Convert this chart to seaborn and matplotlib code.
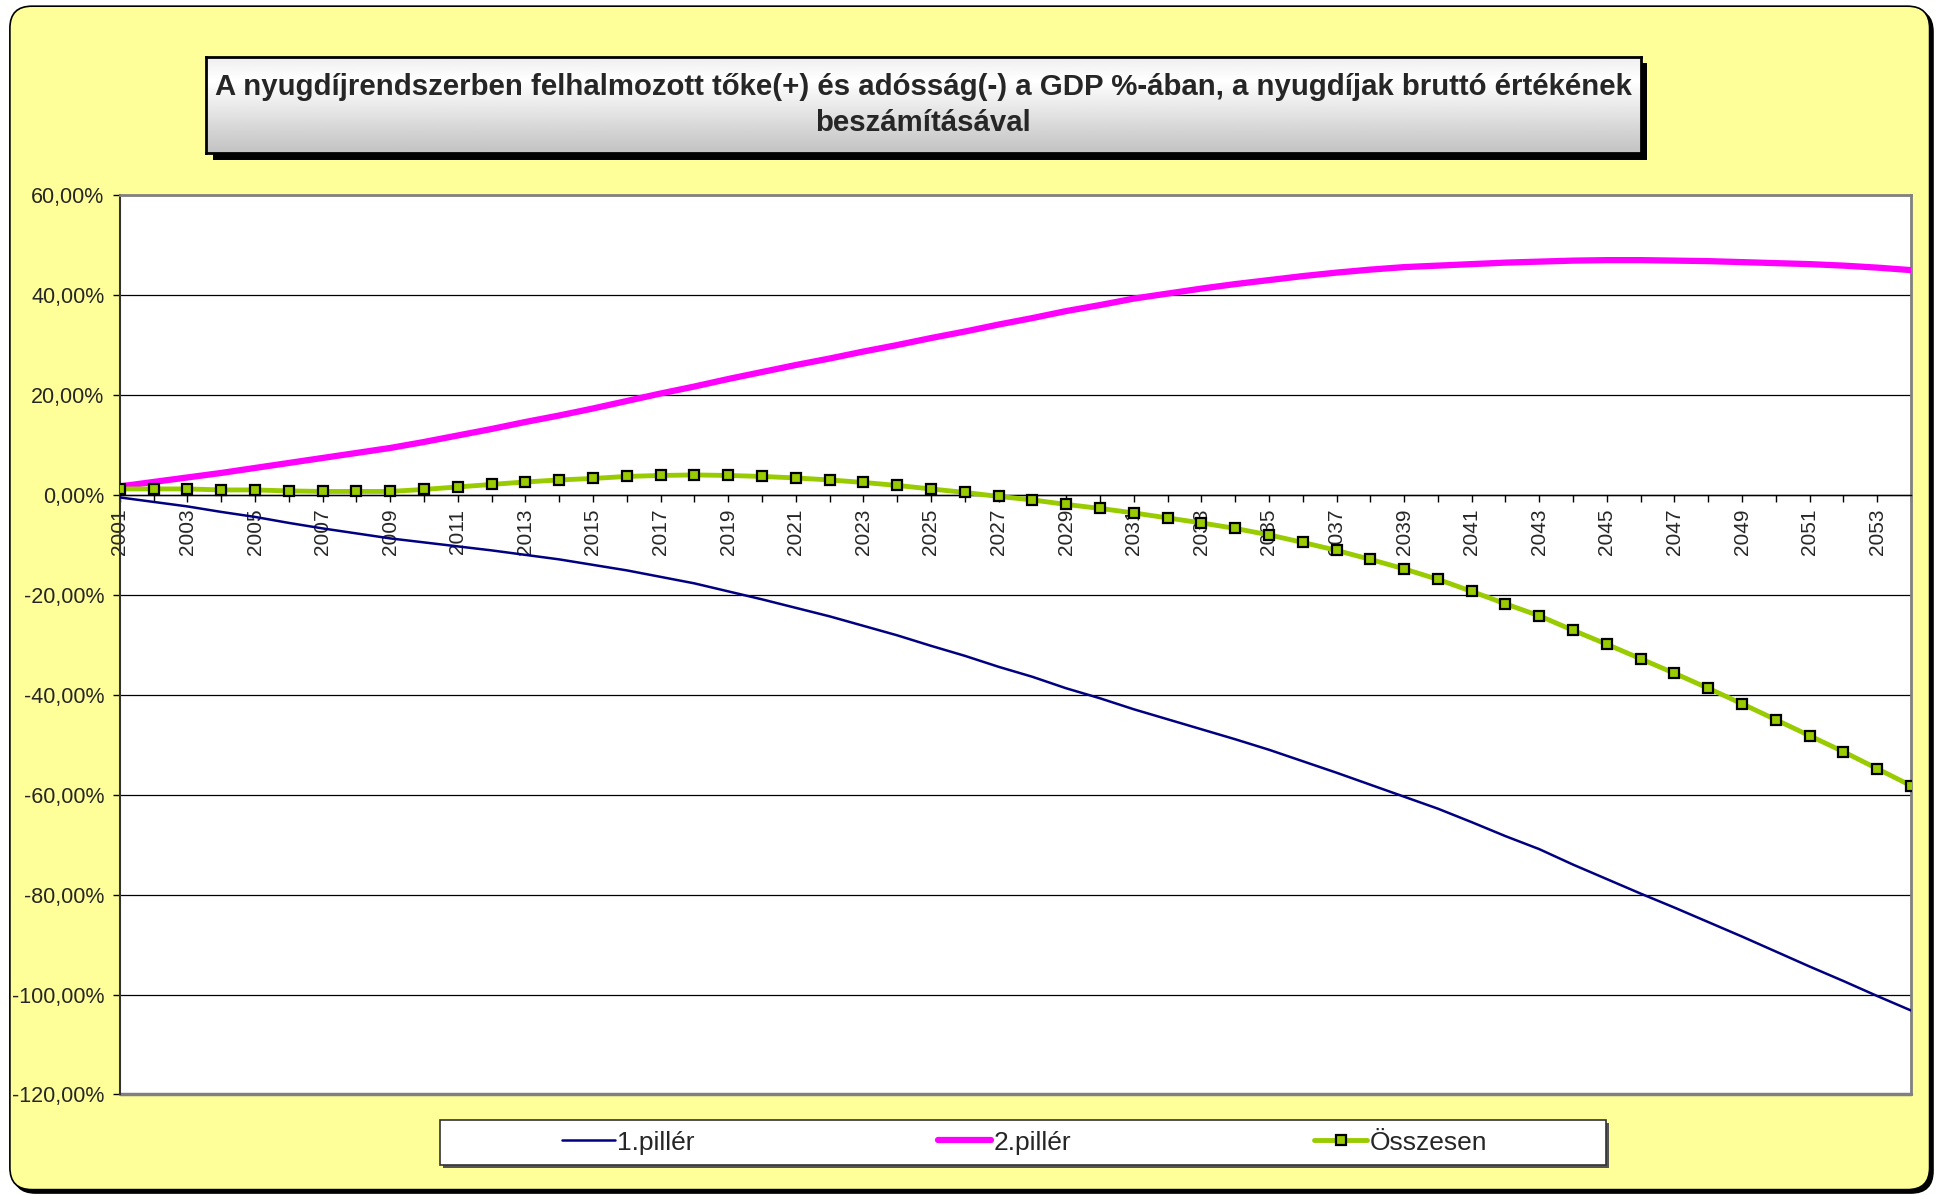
import numpy as np
import pandas as pd
import matplotlib
matplotlib.use("Agg")
import matplotlib.pyplot as plt
import seaborn as sns
from matplotlib.patches import FancyBboxPatch, Rectangle
from matplotlib.ticker import FuncFormatter, MultipleLocator

# adatok (a GDP %-ában)
years = list(range(2001, 2055))
pillar1 = [-0.5, -1.4, -2.3, -3.4, -4.4, -5.6, -6.7, -7.7, -8.7, -9.5,
           -10.3, -11.1, -12.0, -12.9, -14.0, -15.1, -16.4, -17.7, -19.3, -20.9,
           -22.6, -24.3, -26.2, -28.1, -30.2, -32.2, -34.4, -36.4, -38.7, -40.7,
           -42.9, -44.9, -46.9, -48.9, -51.0, -53.3, -55.6, -58.0, -60.4, -62.8,
           -65.5, -68.3, -70.9, -74.0, -76.9, -79.8, -82.6, -85.5, -88.4, -91.4,
           -94.4, -97.3, -100.3, -103.2]
pillar2 = [1.7, 2.6, 3.5, 4.4, 5.4, 6.4, 7.4, 8.4, 9.4, 10.6,
           11.9, 13.2, 14.6, 15.9, 17.3, 18.8, 20.3, 21.7, 23.2, 24.6,
           26.0, 27.3, 28.7, 30.0, 31.4, 32.7, 34.1, 35.4, 36.8, 38.0,
           39.3, 40.3, 41.3, 42.2, 43.0, 43.8, 44.5, 45.1, 45.6, 45.9,
           46.2, 46.5, 46.7, 46.9, 47.0, 47.0, 46.9, 46.8, 46.6, 46.4,
           46.2, 45.9, 45.5, 45.0]
total = [1.2, 1.2, 1.2, 1.0, 1.0, 0.8, 0.7, 0.7, 0.7, 1.1,
         1.6, 2.1, 2.6, 3.0, 3.3, 3.7, 3.9, 4.0, 3.9, 3.7,
         3.4, 3.0, 2.5, 1.9, 1.2, 0.5, -0.3, -1.0, -1.9, -2.7,
         -3.6, -4.6, -5.6, -6.7, -8.0, -9.5, -11.1, -12.9, -14.8, -16.9,
         -19.3, -21.8, -24.2, -27.1, -29.9, -32.8, -35.7, -38.7, -41.8, -45.0,
         -48.2, -51.4, -54.8, -58.2]
series_names = ['1.pillér', '2.pillér', 'Összesen']
title_text = ('A nyugdíjrendszerben felhalmozott tőke(+) és adósság(-) a GDP %-ában, '
              'a nyugdíjak bruttó értékének\nbeszámításával')

sns.set_style('white')
plt.rcParams['font.family'] = ['Liberation Sans', 'DejaVu Sans']
plt.rcParams['axes.unicode_minus'] = False

FW, FH = 19.37, 11.95
fig = plt.figure(figsize=(FW, FH), dpi=100)
fig.patch.set_facecolor('white')

# referencia-kép koordinátái (1568 széles) -> hüvelyk
S = FW / 1568.0
def inch(x, y):
    return x * S, FH - y * S

# sárga háttér lekerekített kerettel és árnyékkal
x0, y0 = inch(8, 963)
bw, bh = (1562 - 8) * S, (963 - 5) * S
fig.patches.append(FancyBboxPatch((x0 + 0.035, y0 - 0.035), bw, bh,
                                  boxstyle='round,pad=0,rounding_size=0.22',
                                  transform=fig.dpi_scale_trans, fc='black', ec='black', zorder=0))
fig.patches.append(FancyBboxPatch((x0, y0), bw, bh,
                                  boxstyle='round,pad=0,rounding_size=0.22',
                                  transform=fig.dpi_scale_trans, fc='#FFFF99', ec='black',
                                  lw=1.2, zorder=0.5))

# cím doboz színátmenettel
tx0, ty0 = 167 / 1568, 1 - 124 / 967.4
tw, th = (1328 - 167) / 1568, (124 - 46) / 967.4
fig.patches.append(Rectangle((tx0 + 0.0035, ty0 - 0.0055), tw, th, transform=fig.transFigure,
                             fc='black', ec='none', zorder=1))
tax = fig.add_axes([tx0, ty0, tw, th], zorder=2)
grad = np.concatenate([np.linspace(0.93, 1.0, 25), np.linspace(1.0, 0.76, 75)])
tax.imshow(grad[:, None], aspect='auto', cmap='gray', vmin=0, vmax=1, extent=[0, 1, 0, 1])
tax.set_xticks([])
tax.set_yticks([])
for sp in tax.spines.values():
    sp.set_color('black')
    sp.set_linewidth(2)
tax.text(0.5, 0.5, title_text, ha='center', va='center', fontsize=21.2, fontweight='bold',
         linespacing=1.4, transform=tax.transAxes)

# diagram
ax = fig.add_axes([97 / 1568, 1 - 886 / 967.4, (1547 - 97) / 1568, (886 - 158) / 967.4], zorder=3)
ax.set_facecolor('white')

df = pd.DataFrame({'ev': years, series_names[0]: pillar1,
                   series_names[1]: pillar2, series_names[2]: total})

sns.lineplot(data=df, x='ev', y=series_names[0], ax=ax, color='#000080', lw=1.8,
             label=series_names[0], zorder=4)
sns.lineplot(data=df, x='ev', y=series_names[1], ax=ax, color='#FF00FF', lw=4.5,
             label=series_names[1], zorder=5)
sns.lineplot(data=df, x='ev', y=series_names[2], ax=ax, color='#99CC00', lw=3.5,
             marker='s', markersize=7.5, markerfacecolor='#99CC00', markeredgecolor='black',
             markeredgewidth=1.6, label=series_names[2], zorder=6)

ax.set_xlim(2001, 2054)
ax.set_ylim(-120, 60)
ax.yaxis.set_major_locator(MultipleLocator(20))
ax.yaxis.set_major_formatter(FuncFormatter(lambda v, p: f'{v:.2f}%'.replace('.', ',')))
ax.grid(axis='y', color='black', lw=0.9)
ax.set_axisbelow(True)
ax.set_xlabel('')
ax.set_ylabel('')

ax.tick_params(axis='x', direction='out', length=5, width=1, pad=5, color='black',
               bottom=True, labelsize=15, labelrotation=90)
ax.tick_params(axis='y', direction='out', length=5, width=1, pad=6, labelsize=15.5,
               left=True, color='black')
ax.set_xticks(years)
ax.set_xticklabels([str(y) if (y - 2001) % 2 == 0 else '' for y in years])
ax.spines['bottom'].set_position(('data', 0))
ax.spines['bottom'].set_color('black')
ax.spines['bottom'].set_linewidth(1)
ax.spines['left'].set_color('#333333')
ax.spines['left'].set_linewidth(1.5)
for side in ['top', 'right']:
    ax.spines[side].set_color('#808080')
    ax.spines[side].set_linewidth(2)
ax.axhline(-120, color='#808080', lw=2.5, clip_on=False, zorder=2)

# jelmagyarázat
lx0, ly0 = 356 / 1568, 1 - 943 / 967.4
lw_, lh_ = (1300 - 356) / 1568, (943 - 907) / 967.4
fig.patches.append(Rectangle((lx0 + 0.0015, ly0 - 0.0025), lw_, lh_, transform=fig.transFigure,
                             fc='#555555', ec='none', zorder=1))
fig.patches.append(Rectangle((lx0, ly0), lw_, lh_, transform=fig.transFigure,
                             fc='white', ec='#333333', lw=1.2, zorder=1.5))
handles, labels = ax.get_legend_handles_labels()
ax.get_legend().remove()
fig.legend(handles, labels, loc='center left', ncol=3, mode='expand',
           bbox_to_anchor=(455 / 1568, ly0, (1204 - 455) / 1568, lh_),
           frameon=False, fontsize=19, handlelength=2.0, handletextpad=0.1,
           borderpad=0, borderaxespad=0)

fig.savefig('out.png', dpi=100, facecolor=fig.get_facecolor())
